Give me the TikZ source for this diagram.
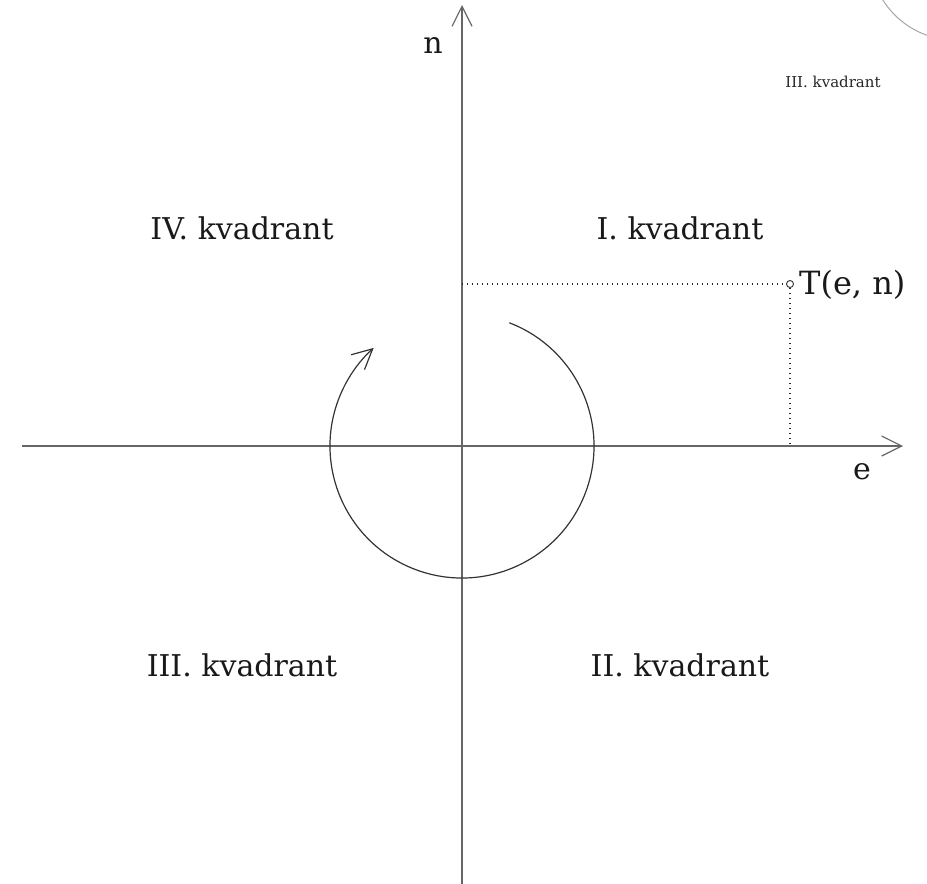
\documentclass[tikz,border=0pt]{standalone}
\usepackage{fontspec}
\setmainfont{DejaVu Serif}
\usetikzlibrary{arrows.meta}
\begin{document}
\begin{tikzpicture}[x=1pt,y=-1pt,
  axis/.style={draw=black!60, line width=1.4pt, -{Straight Barb[length=20pt,width=20pt,line width=1.2pt]}},
  big/.style={font=\fontsize{30}{34}\selectfont, text=black!90, inner sep=0pt},
  small/.style={font=\fontsize{15}{17}\selectfont, text=black!85, inner sep=0pt},
  dots/.style={draw=black!85, line width=1.2pt, dash pattern=on 1.2pt off 3.8pt}]
\useasboundingbox (0,0) rectangle (927,884);
% top-right gray arc
\begin{scope}
\clip (0,0) rectangle (927,884);
\draw[black!35, line width=1pt] (955,-45) circle (85);
\end{scope}
\coordinate (O) at (462,446);
\coordinate (xs) at (22,446);
\coordinate (xe) at (903,446);
\coordinate (ys) at (462,884);
\coordinate (ye) at (462,5);
\draw[axis] (xs) -- (xe);
\draw[axis] (ys) -- (ye);
% rotation arc
\draw[black!80, line width=1.2pt, -{Straight Barb[length=20pt,width=20pt,line width=1.2pt]}]
  ([shift={(-69:132)}]O) arc[start angle=-69, end angle=228, radius=132];
% point T
\node[circle, draw=black!80, line width=0.9pt, inner sep=0pt, minimum size=7pt] (T) at (790,284) {};
\coordinate (Ty) at (462,284);
\coordinate (Tx) at (790,446);
\draw[dots] (Ty) -- (T.west);
\draw[dots] (T.south) -- (Tx);
\node[big, font=\fontsize{32}{36}\selectfont, anchor=west] (Tl) at (799,285) {T(e, n)};
\node[big] (nl) at (433,45) {n};
\node[big] (el) at (862,472) {e};
\node[big] (q4) at (242,228) {IV. kvadrant};
\node[big] (q1) at (680,228) {I. kvadrant};
\node[big] (q3) at (242,665) {III. kvadrant};
\node[big] (q2) at (680,665) {II. kvadrant};
\node[small] (q3s) at (833,82) {III. kvadrant};
\end{tikzpicture}
\end{document}
